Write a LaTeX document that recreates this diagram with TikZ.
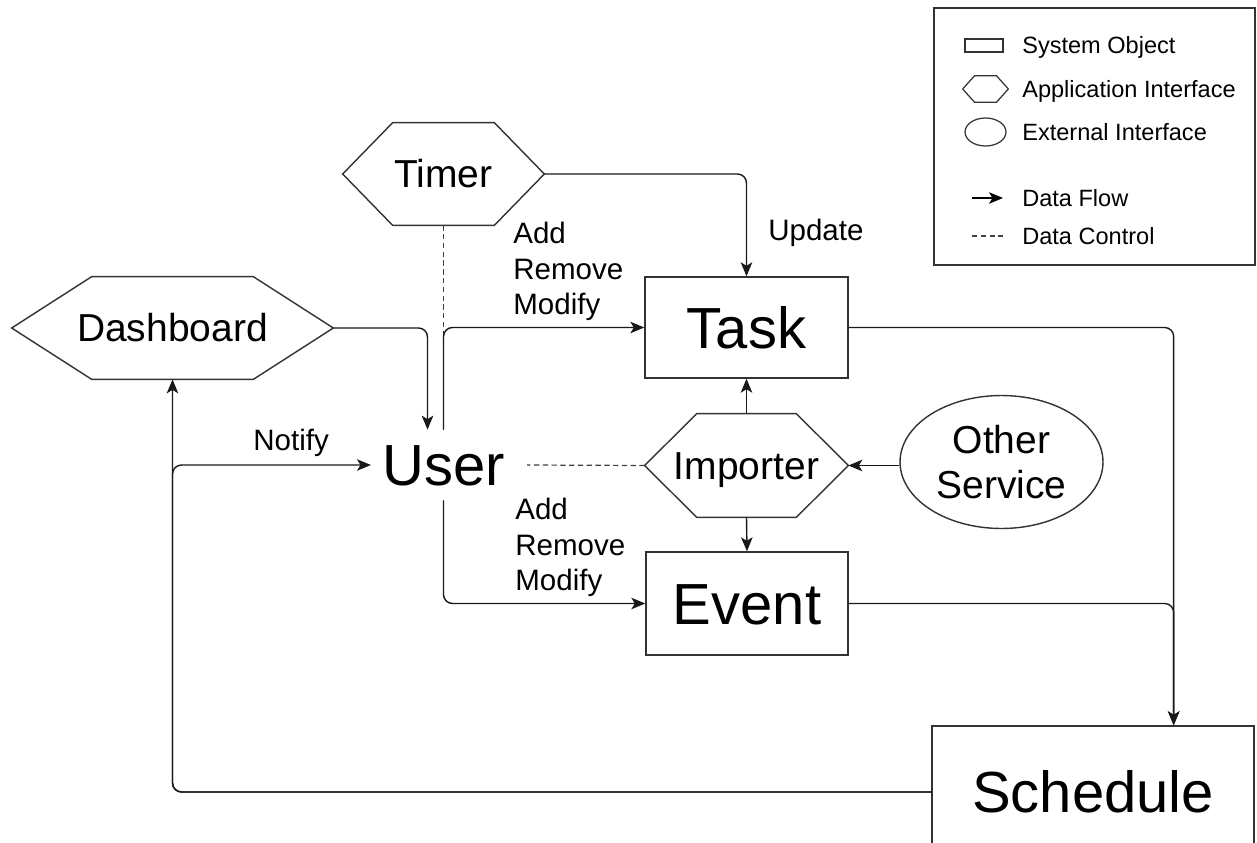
\documentclass[tikz,border=0pt]{standalone}
\usepackage{fontspec}
\setmainfont{Liberation Sans}
\usetikzlibrary{arrows.meta,shapes.geometric,calc}

\newcommand{\bigfont}{\fontsize{33}{40}\selectfont}
\newcommand{\midfont}{\fontsize{22.2}{25.6}\selectfont}
\newcommand{\lblfont}{\fontsize{16.8}{20.2}\selectfont}
\newcommand{\legfont}{\fontsize{13.4}{16}\selectfont}

% hexagon outline drawn on the anchors of a plain rectangular node
\newcommand{\hexframe}[2]{%
  \draw[outline] (#1.west) -- ([xshift=#2]#1.north west) -- ([xshift=-#2]#1.north east)
    -- (#1.east) -- ([xshift=-#2]#1.south east) -- ([xshift=#2]#1.south west) -- cycle;}

\tikzset{
  outline/.style={draw=black!80, line width=0.8pt},
  sysobj/.style={outline, rectangle, inner sep=0pt, font=\bigfont, text height=23.6pt, text depth=0pt},
  hexnode/.style={rectangle, inner sep=0pt, font=\midfont, text height=15.9pt, text depth=0pt},
  tip/.style={-{Stealth[length=2.8mm,width=2.3mm,inset=0.7mm]}},
  flow/.style={draw=black!90, line width=0.8pt, rounded corners=0.18cm, tip},
  control/.style={draw=black!75, line width=0.7pt, dash pattern=on 3pt off 2pt},
  lbl/.style={font=\lblfont, inner sep=0pt, align=left, anchor=north west},
  onelbl/.style={font=\lblfont, inner sep=0pt, anchor=west, text height=12pt, text depth=0pt},
  legtext/.style={font=\legfont, inner sep=0pt, anchor=west, text height=9.6pt, text depth=0pt},
}

\begin{document}
\begin{tikzpicture}[x=0.02cm, y=-0.02cm]
\useasboundingbox (0,0) rectangle (1257,842);
\clip (0,0) rectangle (1257,842);
\fill[white] (0,0) rectangle (1257,842);

% ---- system objects
\node[sysobj, minimum width=4.06cm, minimum height=2.02cm] (task) at (746.5,327.5) {Task};
\node[sysobj, minimum width=4.04cm, minimum height=2.06cm] (event) at (747,603.5) {Event};
\node[sysobj, minimum width=6.44cm, minimum height=2.64cm] (schedule) at (1093,792) {Schedule};

% ---- application interfaces
\node[hexnode, minimum width=4.02cm, minimum height=2.04cm] (timer) at (443.5,174) {Timer};
\hexframe{timer}{1.0cm}
\node[hexnode, minimum width=6.42cm, minimum height=2.04cm] (dash) at (172.5,328) {Dashboard};
\hexframe{dash}{1.6cm}
\node[hexnode, minimum width=4.06cm, minimum height=2.06cm] (imp) at (746.5,465.5) {Importer};
\hexframe{imp}{1.04cm}

% ---- external interface
\node[outline, ellipse, inner sep=0pt, minimum width=4.06cm, minimum height=2.66cm,
      align=center, font=\midfont] (other) at (1001.5,462) {Other\\Service};

% ---- user
\node[font=\bigfont, inner xsep=0.22cm, inner ysep=0pt, minimum height=1.4cm,
      text height=23.6pt, text depth=0pt] (user) at (443.5,465) {User};

% ---- data flow
\draw[flow] (timer.east) -| (task.north);
\draw[control] (timer.south) -- (user.north);
\draw[flow] (user.north) |- (task.west);
\draw[flow] (dash.east) -| ([xshift=-0.32cm]user.north);
\draw[flow] (user.south) |- (event.west);
\draw[control] (imp.west) -- ([xshift=0.22cm]user.east);
\draw[flow] (other.west |- imp.east) -- (imp.east);
\draw[flow] (imp.north) -- (task.south);
\draw[flow] (imp.south) -- (event.north);
\coordinate (schedin) at ($(schedule.north east)+(-81,0)$);
\draw[flow] (task.east) -| (schedin);
\draw[flow] (event.east) -| (schedin);
\draw[flow] (schedule.west) -| (dash.south);
\draw[flow] (schedule.west) -| (dash.south |- user.west) -- (user.west);

% ---- edge labels
\node[onelbl] (update) at (768,230) {Update};
\node[lbl] (addtask) at (513,222) {Add\\Remove\\Modify};
\node[lbl] (addevent) at (515,498) {Add\\Remove\\Modify};
\node[onelbl] (notify) at (253,440) {Notify};

% ---- legend
\node[outline, line width=0.7pt, minimum width=6.42cm, minimum height=5.14cm, inner sep=0pt] (legend) at (1094.5,136.5) {};
\node[outline, line width=0.7pt, minimum width=0.76cm, minimum height=0.26cm, inner sep=0pt] (lgsys) at (984,45.5) {};
\node[legtext] (lgsyst) at (1022,45) {System Object};
\node[rectangle, inner sep=0pt, minimum width=0.9cm, minimum height=0.52cm] (lghex) at (985.5,89) {};
\draw[outline, line width=0.7pt] (lghex.west) -- ([xshift=0.24cm]lghex.north west) -- ([xshift=-0.24cm]lghex.north east)
  -- (lghex.east) -- ([xshift=-0.24cm]lghex.south east) -- ([xshift=0.24cm]lghex.south west) -- cycle;
\node[legtext] (lghext) at (1022,89) {Application Interface};
\node[outline, line width=0.7pt, ellipse, inner sep=0pt, minimum width=0.82cm, minimum height=0.56cm] (lgext) at (985.5,132) {};
\node[legtext] (lgextt) at (1022,132) {External Interface};
\coordinate (lgfa) at (972,198);
\coordinate (lgfb) at (1003,198);
\draw[draw=black, line width=0.8pt, tip] (lgfa) -- (lgfb);
\node[legtext] (lgflowt) at (1022,198) {Data Flow};
\coordinate (lgca) at (972,236);
\coordinate (lgcb) at (1003,236);
\draw[control] (lgca) -- (lgcb);
\node[legtext] (lgctrlt) at (1022,236) {Data Control};
\end{tikzpicture}
\end{document}
